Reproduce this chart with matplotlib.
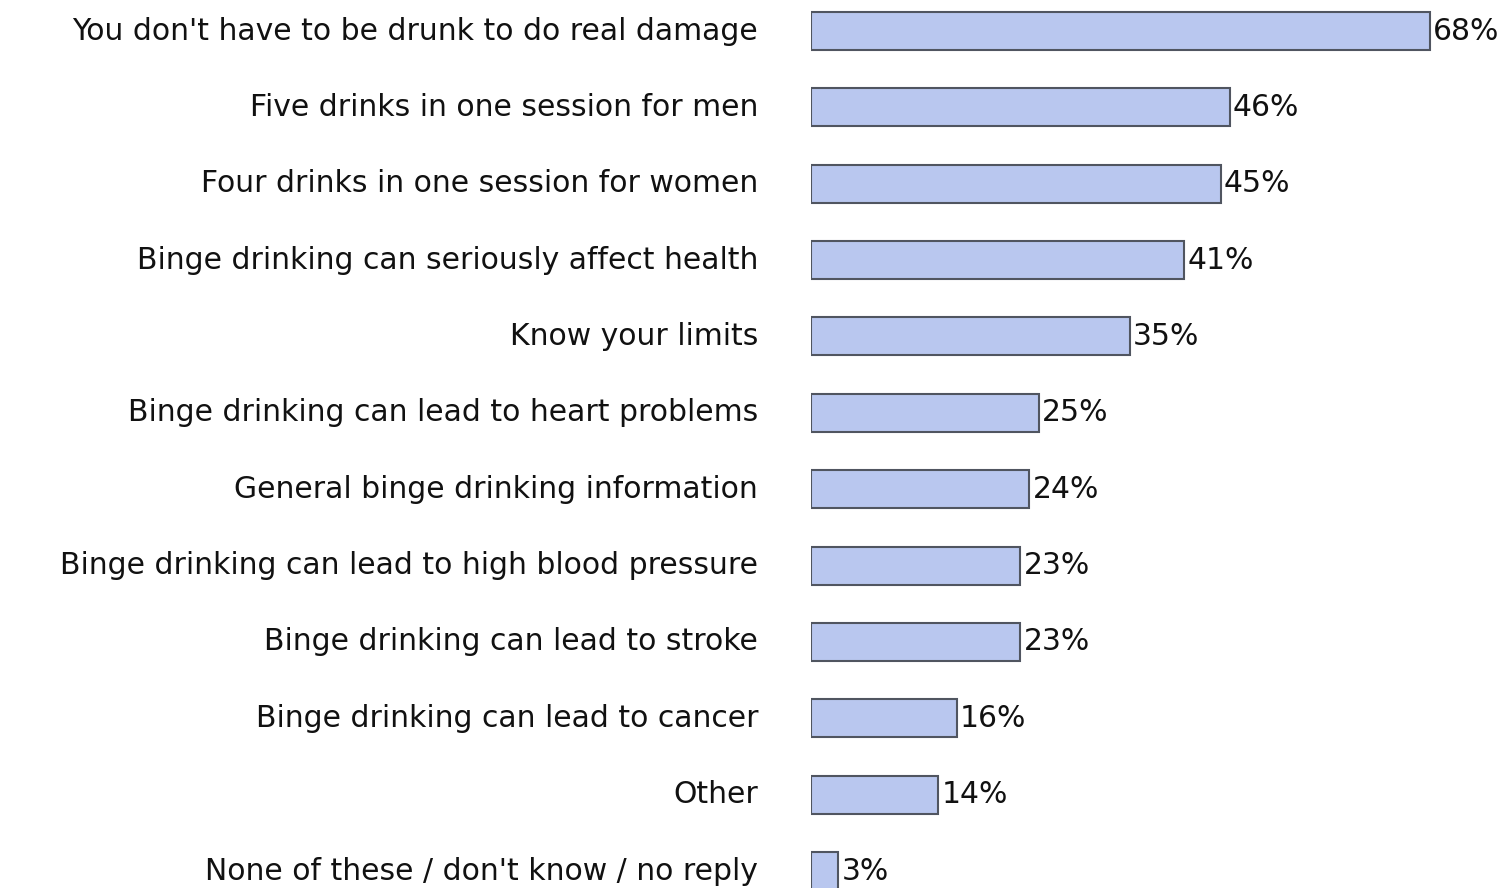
import matplotlib
matplotlib.use("Agg")
import matplotlib.pyplot as plt

labels = [
    "You don't have to be drunk to do real damage",
    "Five drinks in one session for men",
    "Four drinks in one session for women",
    "Binge drinking can seriously affect health",
    "Know your limits",
    "Binge drinking can lead to heart problems",
    "General binge drinking information",
    "Binge drinking can lead to high blood pressure",
    "Binge drinking can lead to stroke",
    "Binge drinking can lead to cancer",
    "Other",
    "None of these / don't know / no reply",
]
values = [68, 46, 45, 41, 35, 25, 24, 23, 23, 16, 14, 3]

W, H = 1508, 888
plt.rcParams["font.family"] = ["DejaVu Sans"]
fig = plt.figure(figsize=(W / 100, H / 100), dpi=100)

# bars start at x=811 px, 68% ends at ~1430 px
px_per_pct = (1430 - 811) / 68
ax = fig.add_axes([811 / W, 0, 1 - 811 / W, 1])
ax.set_xlim(0, (W - 811) / px_per_pct)
step = (871 - 31) / 11
ax.set_ylim(11 + (H - 871) / step, -31 / step)

ypos = list(range(len(values)))
ax.barh(ypos, values, height=38 / step, color="#b9c7ef",
        edgecolor="#505560", linewidth=1.5)
for y, v in zip(ypos, values):
    ax.text(v + 0.35, y, f"{v}%", va="center", ha="left",
            fontsize=21.5, color="#111111")

ax.set_yticks(ypos)
ax.set_yticklabels(labels, fontsize=21.5, color="#111111", va="center")
ax.tick_params(axis="y", length=0, pad=38)
ax.set_xticks([])
for s in ax.spines.values():
    s.set_visible(False)

fig.savefig("out.png", dpi=100, facecolor="white")
